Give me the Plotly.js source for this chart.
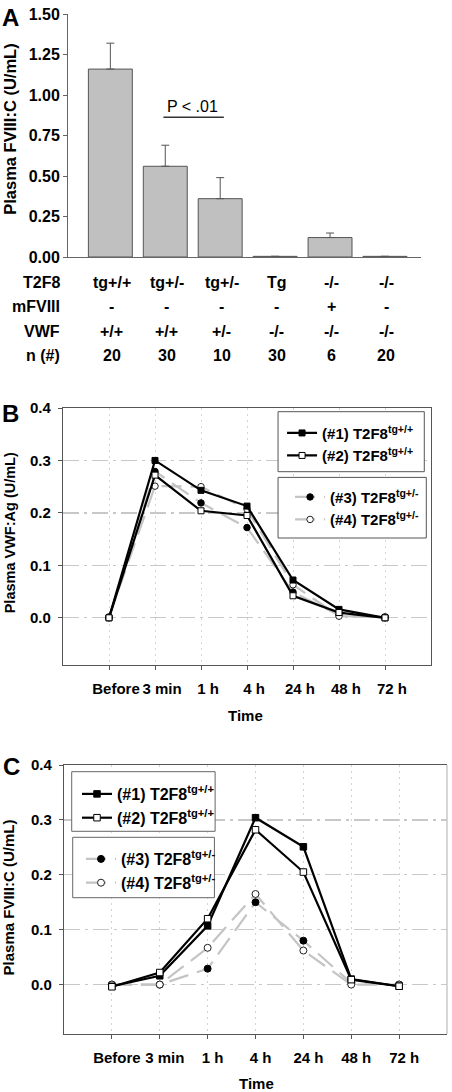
<!DOCTYPE html>
<html>
<head>
<meta charset="utf-8">
<script src="https://cdn.plot.ly/plotly-3.0.1.min.js"></script>
<style>
html,body{margin:0;padding:0;background:#fff;width:452px;height:1092px;overflow:hidden;}
.p{position:absolute;left:0;width:452px;}
</style>
</head>
<body>
<div id="pa" class="p" style="top:0;height:390px;"></div>
<div id="pb" class="p" style="top:395px;height:330px;"></div>
<div id="pc" class="p" style="top:725px;height:367px;"></div>
<script>
// ---------- Panel A data ----------
const rowLabels = ['T2F8', 'mFVIII', 'VWF', 'n (#)'];
const t2f8 = ['tg+/+', 'tg+/-', 'tg+/-', 'Tg', '-/-', '-/-'];
const mfviii = ['-', '-', '-', '-', '+', '-'];
const vwfGeno = ['+/+', '+/+', '+/-', '-/-', '-/-', '-/-'];
const nCount = ['20', '30', '10', '30', '6', '20'];
const fviiiMean = [1.16, 0.56, 0.36, 0.004, 0.12, 0.004];
const fviiiErr = [0.16, 0.13, 0.13, 0, 0.028, 0];
const yTicksA = [0, 0.25, 0.5, 0.75, 1.0, 1.25, 1.5];
const yTickTextA = ['0.00', '0.25', '0.50', '0.75', '1.00', '1.25', '1.50'];

// ---------- Panels B & C data ----------
const timeLabels = ['Before', '3 min', '1 h', '4 h', '24 h', '48 h', '72 h'];
const seriesNames = ['(#1) T2F8<sup>tg+/+</sup>', '(#2) T2F8<sup>tg+/+</sup>', '(#3) T2F8<sup>tg+/-</sup>', '(#4) T2F8<sup>tg+/-</sup>'];
const vwf1 = [0.000, 0.300, 0.243, 0.213, 0.072, 0.016, 0.000];
const vwf2 = [0.000, 0.272, 0.204, 0.195, 0.042, 0.010, 0.000];
const vwf3 = [0.000, 0.279, 0.219, 0.172, 0.049, 0.005, 0.000];
const vwf4 = [0.002, 0.251, 0.250, 0.207, 0.063, 0.003, 0.002];
const fc1 = [-0.003, 0.016, 0.107, 0.304, 0.251, 0.010, -0.003];
const fc2 = [-0.004, 0.022, 0.120, 0.282, 0.205, 0.009, -0.003];
const fc3 = [0.000, 0.000, 0.029, 0.150, 0.080, 0.003, 0.000];
const fc4 = [0.000, 0.000, 0.067, 0.165, 0.062, 0.000, 0.000];
const yTicksBC = [0, 0.1, 0.2, 0.3, 0.4];

const FONT = 'Liberation Sans, Arial, Helvetica, sans-serif';
const AX = '#555';
const cfg = {displayModeBar: false, staticPlot: true};

// ================= Panel A =================
(function () {
  const idx = t2f8.map((_, i) => i);
  const trace = {
    type: 'bar', x: idx, y: fviiiMean, width: 0.8,
    marker: {color: '#c0c0c0', line: {color: '#555', width: 1}},
    error_y: {type: 'data', symmetric: false, array: fviiiErr,
      arrayminus: fviiiErr.map(() => 0), color: '#555', thickness: 1, width: 4},
    showlegend: false, hoverinfo: 'none'
  };
  const H = 390, mt = 14, mb = 390 - 257.3, ml = 68, mr = 452 - 420.7;
  const ph = H - mt - mb;
  const py = (px) => (257.3 - px) / ph;  // page px -> paper y
  const ann = [];
  const rowsY = [282.7, 307.3, 331.7, 355.7];
  const rows = [t2f8, mfviii, vwfGeno, nCount];
  rows.forEach((row, r) => {
    ann.push({xref: 'paper', yref: 'paper', x: 0, xshift: -6, xanchor: 'right', y: py(rowsY[r]), yanchor: 'middle',
      text: rowLabels[r], showarrow: false, font: {family: FONT, size: 16, color: '#000', weight: 'bold'}});
    row.forEach((v, i) => {
      ann.push({xref: 'x', yref: 'paper', x: i, xshift: 1.5, y: py(rowsY[r]), yanchor: 'middle', xanchor: 'center',
        text: v, showarrow: false, font: {family: FONT, size: 16, color: '#000', weight: 'bold'}});
    });
  });
  ann.push({xref: 'x', yref: 'y', x: 1.49, y: 0.928, text: 'P < .01', showarrow: false,
    font: {family: FONT, size: 16, color: '#000'}});
  ann.push({xref: 'paper', yref: 'paper', x: (11 - ml) / (452 - ml - mr), y: py(17.5), xanchor: 'center', yanchor: 'middle',
    text: 'A', showarrow: false, font: {family: FONT, size: 24, color: '#000', weight: 'bold'}});
  ann.push({xref: 'paper', yref: 'paper', x: (10 - ml) / (452 - ml - mr), y: py(129), xanchor: 'center', yanchor: 'middle',
    textangle: -90, text: 'Plasma FVIII:C (U/mL)', showarrow: false, font: {family: FONT, size: 16.5, color: '#000', weight: 'bold'}});
  const layout = {
    width: 452, height: H, margin: {l: ml, r: mr, t: mt, b: mb, pad: 0},
    paper_bgcolor: '#fff', plot_bgcolor: '#fff', font: {family: FONT},
    xaxis: {range: [-0.771, 5.656], showticklabels: false, ticks: '', showgrid: false, zeroline: false,
      showline: true, linecolor: '#666', linewidth: 1},
    yaxis: {range: [0, 1.5], tickvals: yTicksA, ticktext: yTickTextA, ticks: 'outside', ticklen: 4, tickcolor: '#666',
      showgrid: false, zeroline: false, showline: true, linecolor: '#666', linewidth: 1,
      tickfont: {family: FONT, size: 16, color: '#000', weight: 'bold'}},
    shapes: [{type: 'line', xref: 'x', yref: 'y', x0: 0.966, x1: 2.066, y0: 0.863, y1: 0.863, line: {color: '#333', width: 1.5}}],
    annotations: ann
  };
  Plotly.newPlot('pa', [trace], layout, cfg);
})();

// ================= Panels B & C =================
function linePanel(id, H, mt, mb, ml, mr, data, opt) {
  const W = 452, pw = W - ml - mr, ph = H - mt - mb;
  const px = (x) => (x - ml) / pw;
  const py = (y) => 1 - (y - mt) / ph;
  const blk = {color: '#000', width: 2.2};
  const gry = {color: '#c4c4c4', width: 2.2, dash: '20px,9px'};
  const ms = opt.ms;
  const traces = [
    {y: data[2], name: seriesNames[2], line: gry, marker: {symbol: 'circle', size: ms, color: '#000', line: {color: '#000', width: 1}}, legend: 'legend2'},
    {y: data[3], name: seriesNames[3], line: gry, marker: {symbol: 'circle', size: ms, color: '#fff', line: {color: '#222', width: 1}}, legend: 'legend2'},
    {y: data[0], name: seriesNames[0], line: blk, marker: {symbol: 'square', size: ms - 0.5, color: '#000', line: {color: '#000', width: 1}}, legend: 'legend'},
    {y: data[1], name: seriesNames[1], line: blk, marker: {symbol: 'square', size: ms - 0.5, color: '#fff', line: {color: '#000', width: 1}}, legend: 'legend'}
  ].map(t => Object.assign({type: 'scatter', mode: 'lines+markers', x: timeLabels, hoverinfo: 'none'}, t));
  const legFont = {family: FONT, size: opt.legSize, color: '#000', weight: 'bold'};
  const box = (x0, x1, y0, y1) => ({type: 'rect', xref: 'paper', yref: 'paper', layer: 'above',
    x0: px(x0), x1: px(x1), y0: py(y0), y1: py(y1), line: {color: opt.boxColor, width: 1}, fillcolor: '#fff'});
  const shapes = [box(...opt.box1), box(...opt.box2)];
  if (opt.rightLight) {
    shapes.push({type: 'line', xref: 'paper', yref: 'paper', x0: 1, x1: 1, y0: 0, y1: 1, line: {color: '#c8c8c8', width: 1.5}, layer: 'above'});
  }
  const tf = {family: FONT, size: 15, color: '#000', weight: 'bold'};
  const layout = {
    width: W, height: H, margin: {l: ml, r: mr, t: mt, b: mb, pad: 0},
    paper_bgcolor: '#fff', plot_bgcolor: '#fff', font: {family: FONT},
    xaxis: {type: 'category', range: [-1, 7], ticks: 'outside', ticklen: 4, tickcolor: AX,
      showline: true, linecolor: AX, linewidth: 1.2, mirror: true, zeroline: false,
      showgrid: true, gridcolor: '#d4d4d4', gridwidth: 1, griddash: '2px,4px',
      tickfont: tf, ticklabelshift: opt.shift, ticklabelstandoff: 6},
    yaxis: {range: [-0.09, 0.4], tickvals: yTicksBC, ticktext: yTicksBC.map(v => v.toFixed(1)),
      ticks: 'outside', ticklen: 4, tickcolor: AX, showline: true, linecolor: AX, linewidth: 1.2,
      mirror: !opt.rightLight, zeroline: false, showgrid: true, gridcolor: '#c8c8c8', gridwidth: 1.2,
      griddash: '16px,5px,3px,5px', tickfont: tf, ticklabelstandoff: 4},
    showlegend: true,
    legend: {x: px(opt.leg1[0]), y: py(opt.leg1[1]), xanchor: 'left', yanchor: 'top', bgcolor: 'rgba(0,0,0,0)',
      borderwidth: 0, font: legFont, tracegroupgap: 0, itemwidth: 30},
    legend2: {x: px(opt.leg2[0]), y: py(opt.leg2[1]), xanchor: 'left', yanchor: 'top', bgcolor: 'rgba(0,0,0,0)',
      borderwidth: 0, font: legFont, tracegroupgap: 0, itemwidth: 30},
    shapes: shapes,
    annotations: [
      {xref: 'paper', yref: 'paper', x: px(opt.letterPos[0]), y: py(opt.letterPos[1]), xanchor: 'center', yanchor: 'middle',
        text: opt.letter, showarrow: false, font: {family: FONT, size: 24, color: '#000', weight: 'bold'}},
      {xref: 'paper', yref: 'paper', x: px(opt.ytPos[0]), y: py(opt.ytPos[1]), xanchor: 'center', yanchor: 'middle',
        textangle: -90, text: opt.ytitle, showarrow: false, font: {family: FONT, size: opt.ytSize, color: '#000', weight: 'bold'}},
      {xref: 'paper', yref: 'paper', x: px(opt.xtPos[0]), y: py(opt.xtPos[1]), xanchor: 'center', yanchor: 'middle',
        text: 'Time', showarrow: false, font: {family: FONT, size: 15, color: '#000', weight: 'bold'}}
    ]
  };
  Plotly.newPlot(id, traces, layout, cfg);
}

// Panel B: div top = 395
linePanel('pb', 330, 13.3, 330 - 270.3, 63.3, 452 - 430.7, [vwf1, vwf2, vwf3, vwf4], {
  ms: 6.5, legSize: 15, boxColor: '#555', rightLight: false, shift: 7,
  box1: [278, 424, 17, 77], box2: [278, 426, 82.7, 143.3],
  leg1: [282, 22], leg2: [290, 86],
  letter: 'B', letterPos: [11, 19],
  ytitle: 'Plasma VWF:Ag (U/mL)', ytSize: 14.5, ytPos: [10, 138],
  xtPos: [246, 320.7]
});

// Panel C: div top = 725
linePanel('pc', 367, 40, 367 - 309, 64, 452 - 446.7, [fc1, fc2, fc3, fc4], {
  ms: 7, legSize: 16, boxColor: '#666', rightLight: true, shift: 5,
  box1: [71.7, 215, 46.7, 106.3], box2: [72.7, 214.3, 112.3, 172.7],
  leg1: [77, 52], leg2: [81, 117],
  letter: 'C', letterPos: [11.7, 41.7],
  ytitle: 'Plasma FVIII:C (U/mL)', ytSize: 15, ytPos: [8.5, 172],
  xtPos: [256.7, 358.3]
});
</script>
</body>
</html>
